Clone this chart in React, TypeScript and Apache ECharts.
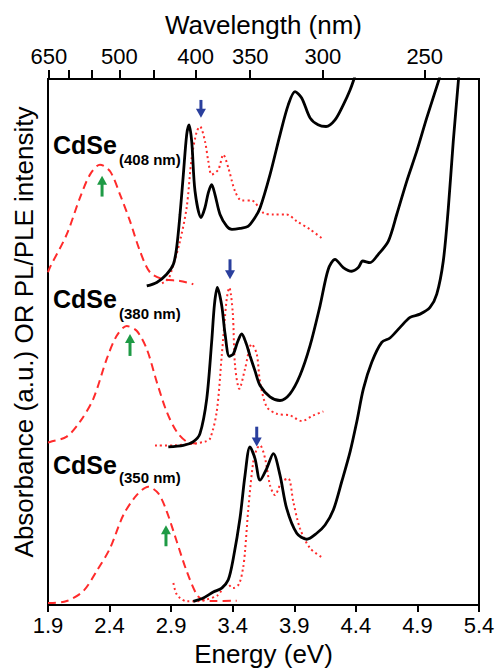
import React, { useEffect, useRef } from "react";
import * as echarts from "echarts";

const FONT = '"Liberation Sans", Arial, Helvetica, sans-serif';
const HC = 1239.84; // eV*nm

// Bottom axis tick labels (eV)
const energyTicks = [1.9, 2.4, 2.9, 3.4, 3.9, 4.4, 4.9, 5.4];
// Top axis (wavelength, nm)
const wlTicks = [650, 600, 550, 500, 450, 400, 350, 300, 250];
const wlLabels = [650, 500, 400, 350, 300, 250];

// Sample labels
const sampleNames = ["CdSe", "CdSe", "CdSe"];
const sampleSubs = ["(408 nm)", "(380 nm)", "(350 nm)"];

// ---- CdSe (408 nm) ----
const absTop: number[][] = [
  [2.702, 60.66], [2.783, 61.31], [2.864, 62.88], [2.918, 64.77], [2.945, 67.99],
  [2.972, 74.24], [2.999, 81.82], [3.026, 89.39], [3.045, 91.29], [3.067, 88.13],
  [3.094, 78.66], [3.143, 73.67], [3.175, 75.57], [3.202, 78.41], [3.229, 79.92],
  [3.256, 78.03], [3.297, 74.24], [3.351, 72.03], [3.394, 71.4], [3.459, 71.59],
  [3.524, 71.97], [3.581, 73.67], [3.622, 75.47], [3.703, 81.82], [3.784, 89.39],
  [3.851, 95.08], [3.906, 97.59], [3.96, 96.4], [4.028, 92.61], [4.093, 91.29],
  [4.158, 90.97], [4.231, 92.23], [4.298, 95.08], [4.353, 97.92], [4.385, 100], [4.401, 101.3],
];
const pleTop: number[][] = [
  [2.826, 61.17], [2.875, 61.93], [2.907, 63.83], [2.972, 69.19], [3.026, 75.57],
  [3.067, 85.04], [3.108, 90.02], [3.134, 90.97], [3.175, 88.13], [3.202, 84.34],
  [3.229, 81.82], [3.283, 82.77], [3.324, 85.61], [3.364, 83.14], [3.419, 78.66],
  [3.473, 76.89], [3.554, 76.89], [3.648, 74.56], [3.73, 74.24], [3.838, 74.24],
  [3.92, 72.97], [4.028, 71.4], [4.136, 69.51],
];
const plTop: number[][] = [
  [1.9, 63.26], [1.916, 64.2], [2.052, 70.45], [2.16, 77.46], [2.241, 81.82],
  [2.322, 83.71], [2.404, 82.45], [2.485, 78.03], [2.566, 72.97], [2.647, 67.29],
  [2.728, 63.26], [2.836, 61.93], [2.972, 61.61], [3.08, 60.98],
];

// ---- CdSe (380 nm) ----
const absMid: number[][] = [
  [2.877, 30.06], [2.999, 30.36], [3.08, 31.06], [3.134, 32.58], [3.189, 39.2],
  [3.229, 50.0], [3.252, 57.2], [3.275, 60.36], [3.311, 56.88], [3.338, 51.52],
  [3.372, 47.29], [3.405, 47.73], [3.439, 50.0], [3.473, 51.52], [3.508, 49.81],
  [3.54, 47.41], [3.581, 44.51], [3.622, 41.72], [3.703, 39.58], [3.784, 38.88],
  [3.865, 40.15], [3.946, 43.62], [4.028, 49.3], [4.109, 56.88], [4.176, 63.83],
  [4.231, 65.72], [4.298, 64.15], [4.366, 63.45], [4.42, 64.15], [4.456, 65.4],
  [4.515, 65.09], [4.582, 66.67], [4.664, 69.19], [4.732, 74.24], [4.813, 80.55],
  [4.894, 86.23], [4.975, 92.56], [5.07, 99.49], [5.083, 100.57],
];
const pleMid: number[][] = [
  [2.769, 30.3], [2.931, 30.36], [3.078, 30.68], [3.175, 31.06], [3.216, 31.63],
  [3.27, 36.74], [3.311, 47.41], [3.351, 58.14], [3.372, 60.36], [3.4, 55.68],
  [3.419, 45.51], [3.454, 41.1], [3.5, 44.89], [3.554, 49.62], [3.595, 47.73],
  [3.622, 42.42], [3.676, 37.69], [3.757, 36.36], [3.865, 36.04], [3.96, 34.98],
  [4.054, 36.04], [4.136, 36.8],
];
const plMid: number[][] = [
  [1.9, 30.87], [1.916, 31.0], [2.052, 32.01], [2.16, 34.85], [2.268, 39.2],
  [2.377, 46.78], [2.458, 51.19], [2.539, 53.03], [2.62, 52.14], [2.702, 48.67],
  [2.783, 42.42], [2.864, 36.74], [2.945, 32.95], [3.026, 31.06], [3.108, 30.68],
];

// ---- CdSe (350 nm) ----
const absBot: number[][] = [
  [3.08, 0.7], [3.161, 1.33], [3.242, 2.46], [3.311, 3.22], [3.364, 4.79],
  [3.405, 8.9], [3.459, 16.48], [3.5, 24.68], [3.54, 30.06], [3.581, 27.84],
  [3.622, 23.73], [3.676, 25.95], [3.73, 28.79], [3.784, 24.68], [3.838, 18.37],
  [3.92, 13.64], [4.001, 12.5], [4.082, 13.64], [4.15, 15.2], [4.217, 18.05],
  [4.285, 23.43], [4.353, 29.11], [4.407, 34.79], [4.461, 41.1], [4.529, 46.16],
  [4.61, 49.94], [4.677, 50.76], [4.759, 52.78], [4.84, 54.68], [4.921, 55.3],
  [5.002, 56.57], [5.057, 59.09], [5.11, 65.4], [5.151, 75.51], [5.191, 88.13],
  [5.232, 99.49], [5.238, 101.3],
];
const pleBot: number[][] = [
  [2.918, 4.17], [2.94, 2.27], [2.972, 1.33], [3.026, 0.7], [3.134, 0.76],
  [3.175, 0.95], [3.281, 1.89], [3.351, 4.17], [3.402, 3.22], [3.451, 3.98],
  [3.484, 7.01], [3.5, 10.23], [3.527, 18.37], [3.567, 27.22], [3.597, 29.73],
  [3.622, 30.36], [3.663, 27.84], [3.703, 22.78], [3.743, 20.89], [3.798, 23.43],
  [3.851, 24.05], [3.892, 19.64], [3.946, 14.58], [4.028, 10.8], [4.136, 8.9],
];
const plBot: number[][] = [
  [1.9, 0.38], [1.916, 0.38], [2.052, 0.76], [2.187, 2.65], [2.295, 6.44],
  [2.404, 10.8], [2.512, 17.1], [2.62, 20.89], [2.715, 22.48], [2.796, 21.21],
  [2.864, 17.8], [2.945, 12.12], [3.026, 6.44], [3.108, 1.95], [3.161, 0.95],
  [3.242, 0.76], [3.432, 0.81],
];

// Arrows: [energy, tail value, head value]
const blueArrows: number[][] = [
  [3.142, 96.02, 92.61],
  [3.378, 65.72, 61.93],
  [3.595, 33.9, 30.11],
];
const greenArrows: number[][] = [
  [2.339, 77.65, 81.63],
  [2.566, 47.35, 51.52],
  [2.858, 11.17, 15.15],
];

const RED = "#ff2b2b";
const BLACK = "#000000";

function lineSeries(data: number[][], kind: "abs" | "ple" | "pl") {
  const style =
    kind === "abs"
      ? { color: BLACK, width: 2.8, type: "solid" as any }
      : kind === "ple"
      ? { color: RED, width: 2, type: [2, 3] as any }
      : { color: RED, width: 2, type: [8, 5] as any };
  return {
    type: "line",
    data,
    showSymbol: false,
    smooth: 0.3,
    lineStyle: style,
    z: kind === "abs" ? 4 : 3,
    silent: true,
  };
}

function arrowSeries(data: number[][], color: string) {
  return {
    type: "custom",
    data,
    z: 6,
    itemStyle: { color },
    renderItem: (_params: any, api: any) => {
      const x = api.value(0);
      const p1 = api.coord([x, api.value(1)]);
      const p2 = api.coord([x, api.value(2)]);
      const d = p2[1] > p1[1] ? 1 : -1;
      const c = api.visual("color");
      const headLen = 9;
      const halfW = 5;
      return {
        type: "group",
        children: [
          {
            type: "line",
            shape: { x1: p1[0], y1: p1[1], x2: p2[0], y2: p2[1] - d * (headLen - 1) },
            style: { stroke: c, lineWidth: 3 },
          },
          {
            type: "polygon",
            shape: {
              points: [
                [p2[0], p2[1]],
                [p2[0] - halfW, p2[1] - d * headLen],
                [p2[0] + halfW, p2[1] - d * headLen],
              ],
            },
            style: { fill: c },
          },
        ],
      };
    },
  };
}

export default function App() {
  const ref = useRef<HTMLDivElement>(null);

  useEffect(() => {
    document.body.style.margin = "0";
    if (!ref.current) return;
    const chart = echarts.init(ref.current, undefined, { renderer: "svg" });

    const labelY = [
      [145, 160],
      [299, 314],
      [465, 478],
    ];
    const graphics: any[] = [];
    sampleNames.forEach((n, i) => {
      graphics.push({
        type: "text",
        left: 53,
        top: labelY[i][0] - 13,
        style: { text: n, font: `bold 25px ${FONT}`, fill: "#000" },
      });
      graphics.push({
        type: "text",
        left: 119,
        top: labelY[i][1] - 8,
        style: { text: sampleSubs[i], font: `bold 15px ${FONT}`, fill: "#000" },
      });
    });
    graphics.push({
      type: "text",
      x: 24,
      y: 332,
      rotation: Math.PI / 2,
      style: {
        text: "Absorbance (a.u.) OR PL/PLE intensity",
        font: `26px ${FONT}`,
        fill: "#000",
        align: "center",
        verticalAlign: "middle",
      },
    });

    const axisLineStyle = { color: "#000", width: 2 };

    chart.setOption({
      animation: false,
      backgroundColor: "#fff",
      grid: {
        left: 48,
        right: 21,
        top: 79,
        bottom: 65,
        containLabel: false,
        show: true,
        borderColor: "#000",
        borderWidth: 2,
      },
      xAxis: [
        {
          type: "value",
          position: "bottom",
          min: 1.9,
          max: 5.4,
          name: "Energy (eV)",
          nameLocation: "middle",
          nameGap: 36,
          nameTextStyle: { fontFamily: FONT, fontSize: 26, color: "#000" },
          axisLine: { show: true, onZero: false, lineStyle: axisLineStyle },
          axisTick: {
            show: true,
            inside: false,
            length: 7,
            customValues: energyTicks,
            lineStyle: { color: "#000", width: 2 },
          },
          axisLabel: {
            customValues: energyTicks,
            margin: 9,
            fontFamily: FONT,
            fontSize: 22,
            color: "#000",
            formatter: (v: number) => v.toFixed(1),
          },
          splitLine: { show: false },
        },
        {
          type: "value",
          position: "top",
          min: 1.9,
          max: 5.4,
          name: "Wavelength (nm)",
          nameLocation: "middle",
          nameGap: 41,
          nameTextStyle: { fontFamily: FONT, fontSize: 26, color: "#000" },
          axisLine: { show: true, onZero: false, lineStyle: axisLineStyle },
          axisTick: {
            show: true,
            inside: false,
            length: 9,
            customValues: wlTicks.map((w) => HC / w),
            lineStyle: { color: "#000", width: 2 },
          },
          axisLabel: {
            customValues: wlLabels.map((w) => HC / w),
            margin: 12,
            fontFamily: FONT,
            fontSize: 22,
            color: "#000",
            formatter: (v: number) => String(Math.round(HC / v)),
          },
          splitLine: { show: false },
        },
      ],
      yAxis: [
        {
          type: "value",
          position: "left",
          min: 0,
          max: 100,
          axisLine: { show: true, onZero: false, lineStyle: axisLineStyle },
          axisTick: { show: false },
          axisLabel: { show: false },
          splitLine: { show: false },
        },
        {
          type: "value",
          position: "right",
          min: 0,
          max: 100,
          axisLine: { show: true, onZero: false, lineStyle: axisLineStyle },
          axisTick: { show: false },
          axisLabel: { show: false },
          splitLine: { show: false },
        },
      ],
      graphic: graphics,
      series: [
        lineSeries(plTop, "pl"),
        lineSeries(pleTop, "ple"),
        lineSeries(plMid, "pl"),
        lineSeries(pleMid, "ple"),
        lineSeries(plBot, "pl"),
        lineSeries(pleBot, "ple"),
        lineSeries(absTop, "abs"),
        lineSeries(absMid, "abs"),
        lineSeries(absBot, "abs"),
        arrowSeries(blueArrows, "#2a3f9d"),
        arrowSeries(greenArrows, "#1e9a45"),
      ],
    });

    return () => chart.dispose();
  }, []);

  return <div ref={ref} style={{ width: 500, height: 672 }} />;
}
